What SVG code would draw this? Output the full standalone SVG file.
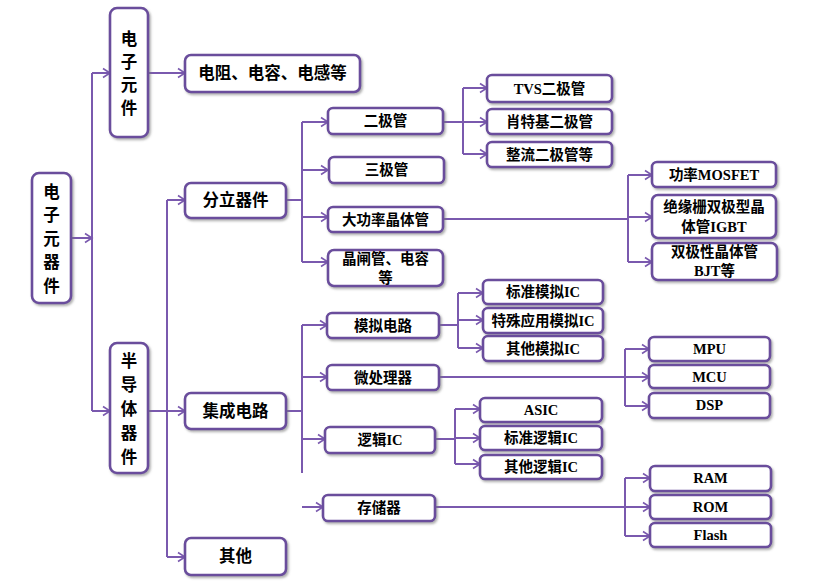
<svg xmlns="http://www.w3.org/2000/svg" width="815" height="582" viewBox="0 0 815 582">
<style>
.box{fill:#fff;stroke:#6a4e9c;stroke-width:2.6;filter:url(#sh)}
.c{fill:none;stroke:#7a59ae;stroke-width:2}
.a{marker-end:url(#ar)}
text{font-family:"Liberation Serif","Noto Sans CJK SC",serif;font-weight:bold;fill:#000;text-anchor:middle;dominant-baseline:central;font-size:14.5px}
.l{font-size:16.5px}
</style>
<defs>
<filter id="sh" x="-10%" y="-10%" width="130%" height="140%">
<feDropShadow dx="1.5" dy="1.8" stdDeviation="0.9" flood-color="#777" flood-opacity="0.6"/>
</filter>
<marker id="ar" markerUnits="userSpaceOnUse" markerWidth="10" markerHeight="12" refX="8" refY="5" orient="auto" viewBox="0 0 10 10">
<path d="M1,0.5 L8,5 L1,9.5" fill="none" stroke="#7a59ae" stroke-width="1.6"/>
</marker>
</defs>
<rect width="815" height="582" fill="#fff"/>
<g id="connectors">
<path class="c a" d="M71,238 H92"/>
<path class="c" d="M92,73 V411"/>
<path class="c a" d="M92,73 H110"/>
<path class="c a" d="M92,411 H110"/>
<path class="c a" d="M148,73 H185"/>
<path class="c a" d="M148,411 H185"/>
<path class="c" d="M167,200 V557"/>
<path class="c a" d="M167,200 H185"/>
<path class="c a" d="M167,557 H185"/>
<path class="c" d="M286,200 H302 M302,122 V262"/>
<path class="c a" d="M302,122 H328"/>
<path class="c a" d="M302,170 H328"/>
<path class="c a" d="M302,217 H328"/>
<path class="c a" d="M302,262 H328"/>
<path class="c" d="M443,122 H463 M463,88 V154"/>
<path class="c a" d="M463,88 H487"/>
<path class="c a" d="M463,122 H487"/>
<path class="c a" d="M463,154 H487"/>
<path class="c" d="M443,219 H628 M628,175 V262"/>
<path class="c a" d="M628,175 H652"/>
<path class="c a" d="M628,217 H652"/>
<path class="c a" d="M628,262 H652"/>
<path class="c" d="M286,411 H302 M302,325 V473"/>
<path class="c a" d="M302,325 H327"/>
<path class="c a" d="M302,377 H327"/>
<path class="c a" d="M302,439 H325"/>
<path class="c a" d="M302,507 H323"/>
<path class="c" d="M439,325 H458 M458,293 V348"/>
<path class="c a" d="M458,293 H483"/>
<path class="c a" d="M458,320 H483"/>
<path class="c a" d="M458,348 H483"/>
<path class="c" d="M439,377 H625 M625,349 V406"/>
<path class="c a" d="M625,349 H649"/>
<path class="c a" d="M625,377 H649"/>
<path class="c a" d="M625,406 H649"/>
<path class="c" d="M435,439 H455 M455,409 V464"/>
<path class="c a" d="M455,409 H480"/>
<path class="c a" d="M455,438 H480"/>
<path class="c a" d="M455,464 H480"/>
<path class="c" d="M435,507 H625 M625,478 V536"/>
<path class="c a" d="M625,478 H650"/>
<path class="c a" d="M625,507 H650"/>
<path class="c a" d="M625,536 H650"/>
</g>
<g id="root"><rect class="box" x="32" y="173" width="39" height="130" rx="7"/>
<text class="l" x="51.5" y="192">电</text><text class="l" x="51.5" y="215">子</text><text class="l" x="51.5" y="239">元</text><text class="l" x="51.5" y="262">器</text><text class="l" x="51.5" y="286">件</text></g>
<g id="dianzi-yuanjian"><rect class="box" x="110" y="8" width="38" height="129" rx="7"/>
<text class="l" x="129" y="39">电</text><text class="l" x="129" y="62">子</text><text class="l" x="129" y="85">元</text><text class="l" x="129" y="108">件</text></g>
<g id="dianzu"><rect class="box" x="185" y="55" width="175" height="37" rx="6"/><text class="l" x="272.5" y="73.5">电阻、电容、电感等</text></g>
<g id="bandaoti"><rect class="box" x="110" y="343" width="38" height="130" rx="7"/>
<text class="l" x="129" y="361">半</text><text class="l" x="129" y="385">导</text><text class="l" x="129" y="409">体</text><text class="l" x="129" y="433">器</text><text class="l" x="129" y="457">件</text></g>
<g id="fenli"><rect class="box" x="185" y="183" width="101" height="35" rx="6"/><text class="l" x="235.5" y="200.5">分立器件</text></g>
<g id="jicheng"><rect class="box" x="185" y="393" width="101" height="36" rx="6"/><text class="l" x="235.5" y="411">集成电路</text></g>
<g id="qita"><rect class="box" x="185" y="538" width="101" height="37" rx="6"/><text class="l" x="235.5" y="556.5">其他</text></g>
<g id="erjiguan"><rect class="box" x="328" y="108" width="115" height="26" rx="5"/><text x="385.5" y="121">二极管</text></g>
<g id="sanjiguan"><rect class="box" x="329" y="157" width="115" height="26" rx="5"/><text x="386.5" y="170">三极管</text></g>
<g id="dagonglv"><rect class="box" x="328" y="207" width="115" height="25" rx="5"/><text x="385.5" y="219.5">大功率晶体管</text></g>
<g id="jingzha"><rect class="box" x="328" y="250" width="115" height="36" rx="6"/><text x="385.5" y="259">晶闸管、电容</text><text x="385.5" y="278">等</text></g>
<g id="tvs"><rect class="box" x="487" y="75" width="125" height="27" rx="5"/><text x="549.5" y="88.5">TVS二极管</text></g>
<g id="xiaoteji"><rect class="box" x="487" y="109" width="125" height="25" rx="5"/><text x="549.5" y="121.5">肖特基二极管</text></g>
<g id="zhengliu"><rect class="box" x="487" y="142" width="125" height="25" rx="5"/><text x="549.5" y="154.5">整流二极管等</text></g>
<g id="mosfet"><rect class="box" x="652" y="162" width="124" height="25" rx="5"/><text x="714" y="174.5">功率MOSFET</text></g>
<g id="igbt"><rect class="box" x="652" y="195" width="124" height="43" rx="6"/><text x="714" y="207">绝缘栅双极型晶</text><text x="714" y="227">体管IGBT</text></g>
<g id="bjt"><rect class="box" x="652" y="243" width="125" height="37" rx="6"/><text x="714.5" y="252">双极性晶体管</text><text x="714.5" y="271">BJT等</text></g>
<g id="moni"><rect class="box" x="327" y="313" width="112" height="25" rx="5"/><text x="383" y="325.5">模拟电路</text></g>
<g id="weichuli"><rect class="box" x="327" y="365" width="112" height="25" rx="5"/><text x="383" y="377.5">微处理器</text></g>
<g id="luoji"><rect class="box" x="325" y="427" width="110" height="26" rx="5"/><text x="380" y="440">逻辑IC</text></g>
<g id="cunchu"><rect class="box" x="323" y="495" width="112" height="26" rx="5"/><text x="379" y="508">存储器</text></g>
<g id="biaozhun-moni"><rect class="box" x="483" y="280" width="120" height="24" rx="5"/><text x="543" y="292">标准模拟IC</text></g>
<g id="teshu"><rect class="box" x="483" y="308" width="120" height="25" rx="5"/><text x="543" y="320.5">特殊应用模拟IC</text></g>
<g id="qita-moni"><rect class="box" x="483" y="336" width="120" height="25" rx="5"/><text x="543" y="348.5">其他模拟IC</text></g>
<g id="mpu"><rect class="box" x="649" y="337" width="121" height="24" rx="5"/><text x="709.5" y="349">MPU</text></g>
<g id="mcu"><rect class="box" x="649" y="365" width="121" height="23" rx="5"/><text x="709.5" y="376.5">MCU</text></g>
<g id="dsp"><rect class="box" x="649" y="393" width="121" height="25" rx="5"/><text x="709.5" y="405">DSP</text></g>
<g id="asic"><rect class="box" x="480" y="398" width="122" height="24" rx="5"/><text x="541" y="410">ASIC</text></g>
<g id="biaozhun-luoji"><rect class="box" x="480" y="426" width="122" height="24" rx="5"/><text x="541" y="438">标准逻辑IC</text></g>
<g id="qita-luoji"><rect class="box" x="480" y="455" width="122" height="24" rx="5"/><text x="541" y="467">其他逻辑IC</text></g>
<g id="ram"><rect class="box" x="650" y="466" width="121" height="25" rx="5"/><text x="710.5" y="478">RAM</text></g>
<g id="rom"><rect class="box" x="650" y="495" width="121" height="24" rx="5"/><text x="710.5" y="507">ROM</text></g>
<g id="flash"><rect class="box" x="650" y="523" width="121" height="24" rx="5"/><text x="710.5" y="535">Flash</text></g>
</svg>
